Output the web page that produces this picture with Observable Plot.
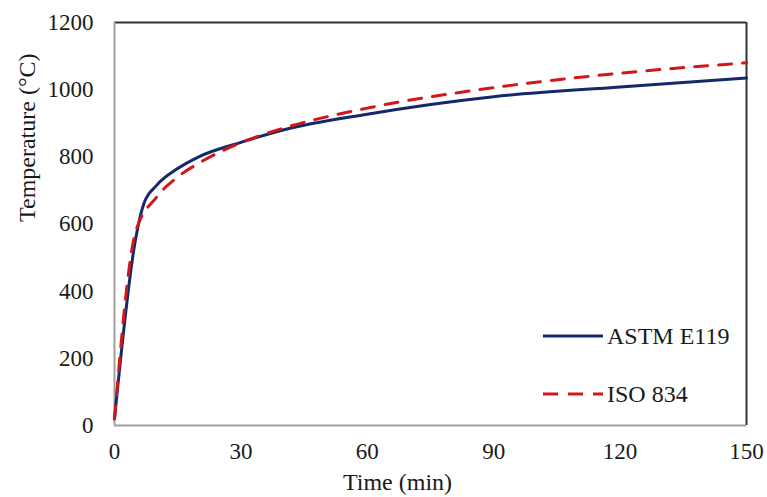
<!DOCTYPE html>
<html>
<head>
<meta charset="utf-8">
<script src="https://cdn.jsdelivr.net/npm/d3@7"></script>
<script src="https://cdn.jsdelivr.net/npm/@observablehq/plot@0.6"></script>
<style>
  html, body { margin: 0; padding: 0; background: #fff; }
  #chart { position: relative; width: 767px; height: 497px; font-family: "Times New Roman", "Liberation Serif", "DejaVu Serif", serif; }
  #chart svg text { font-family: "Times New Roman", "Liberation Serif", "DejaVu Serif", serif; }
  .legend { position: absolute; left: 543px; top: 0; font-size: 24px; color: #1a1a1a; }
  .legend .item { position: absolute; display: flex; align-items: center; white-space: nowrap; }
  .legend svg { display: block; margin-right: 4px; }
</style>
</head>
<body>
<div id="chart"></div>
<script>
// Standard fire curves: furnace temperature (°C) against time (min)
const astmTime = [0, 5, 7, 10, 15, 20, 30, 40, 60, 90, 120, 150];
const astmTemp = [20, 555, 662, 715, 765, 800, 843, 880, 927, 979, 1008, 1035];
const isoTime = [0, 5, 10, 15, 20, 30, 40, 60, 90, 120, 150];
const isoTemp = [20, 576, 680, 740, 781, 842, 885, 945, 1006, 1049, 1080];

const xTicks = [0, 30, 60, 90, 120, 150];
const yTicks = [0, 200, 400, 600, 800, 1000, 1200];

const seriesNames = ["ASTM E119", "ISO 834"];
const seriesColors = ["#14286a", "#d01818"];

const astm = astmTime.map((t, i) => ({time: t, temp: astmTemp[i]}));
const iso = isoTime.map((t, i) => ({time: t, temp: isoTemp[i]}));

const serif = "'Times New Roman', 'Liberation Serif', 'DejaVu Serif', serif";

const chart = Plot.plot({
  width: 767,
  height: 497,
  marginLeft: 114,
  marginRight: 21,
  marginTop: 22,
  marginBottom: 72,
  style: {fontFamily: serif, fontSize: "23px", color: "#1a1a1a", background: "#fff"},
  x: {domain: [0, 150], ticks: xTicks},
  y: {domain: [0, 1200], ticks: yTicks},
  marks: [
    Plot.axisX(xTicks, {tickSize: 0, tickPadding: 17, label: null, tickFormat: (d) => String(d)}),
    Plot.axisY(yTicks, {tickSize: 0, tickPadding: 21, label: null, tickFormat: (d) => String(d)}),
    Plot.ruleY([1200], {stroke: "#333", strokeWidth: 2}),
    Plot.ruleX([150], {stroke: "#333", strokeWidth: 2}),
    Plot.ruleX([0], {stroke: "#a0a0a0", strokeWidth: 2}),
    Plot.ruleY([0], {stroke: "#a0a0a0", strokeWidth: 2}),
    Plot.line(astm, {x: "time", y: "temp", stroke: seriesColors[0], strokeWidth: 3, curve: "monotone-x"}),
    Plot.line(iso, {x: "time", y: "temp", stroke: seriesColors[1], strokeWidth: 3, strokeDasharray: "13,11", curve: "monotone-x"}),
    Plot.text(["Time (min)"], {frameAnchor: "bottom", dx: -33, dy: 57, lineAnchor: "middle", fontSize: 24, fontFamily: serif}),
    Plot.text(["Temperature (°C)"], {frameAnchor: "left", rotate: -90, dx: -87, dy: -2, lineAnchor: "middle", fontSize: 24, fontFamily: serif})
  ]
});

const root = document.getElementById("chart");
root.appendChild(chart);

// Legend placed over the lower-right of the plot area
const legend = document.createElement("div");
legend.className = "legend";
const legendTops = [336, 394];
seriesNames.forEach((name, i) => {
  const item = document.createElement("div");
  item.className = "item";
  item.style.top = (legendTops[i] - 16) + "px";
  item.style.height = "32px";
  const dash = i === 1 ? ' stroke-dasharray="15,10"' : "";
  item.innerHTML = `<svg width="60" height="8"><line x1="0" y1="4" x2="60" y2="4" stroke="${seriesColors[i]}" stroke-width="3"${dash}/></svg><span>${name}</span>`;
  legend.appendChild(item);
});
root.appendChild(legend);
</script>
</body>
</html>
